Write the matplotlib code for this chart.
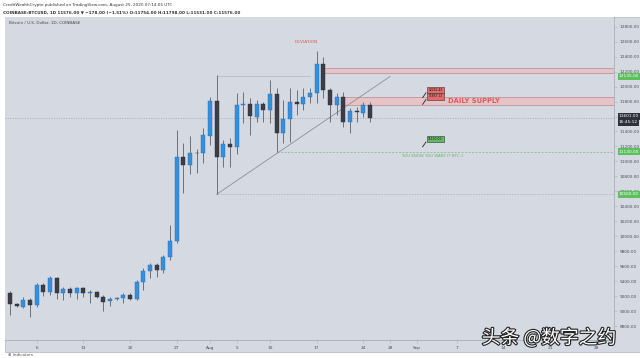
import matplotlib
matplotlib.use("Agg")
import matplotlib.pyplot as plt
import matplotlib.patheffects as pe
from matplotlib.patches import Rectangle
from matplotlib.transforms import blended_transform_factory

# daily candles, COINBASE BTCUSD, Jul 2 .. Aug 25 2020 (index 0 = Jul 2)
opens = [9247, 9091, 9060, 9149, 9082, 9345, 9260, 9438, 9238, 9292,
         9238, 9305, 9247, 9260, 9194, 9136, 9158, 9171, 9216, 9158,
         9394, 9537, 9617, 9550, 9719, 9942, 11053, 10950, 11110, 11108,
         11340, 11811, 11064, 11233, 11188, 11754, 11767, 11598, 11767, 11687,
         11901, 11384, 11562, 11789, 11767, 11856, 11919, 12302, 11954, 11754,
         11865, 11522, 11678, 11652, 11754]
highs = [9274, 9113, 9194, 9171, 9381, 9372, 9470, 9452, 9318, 9318,
         9327, 9318, 9283, 9274, 9216, 9185, 9194, 9247, 9238, 9416,
         9572, 9639, 9639, 9750, 10151, 11418, 11247, 11343, 11170, 11450,
         11865, 12155, 11286, 11308, 11910, 11932, 11843, 11820, 11798, 12088,
         11976, 11820, 11976, 11954, 11976, 11976, 12479, 12395, 11976, 11910,
         11932, 11710, 11731, 11798, 11798]
lows = [8949, 9051, 9038, 8918, 9051, 9200, 9216, 9158, 9149, 9194,
        9158, 9185, 9105, 9171, 9007, 9069, 9149, 9113, 9149, 9149,
        9283, 9439, 9461, 9505, 9683, 9904, 10576, 10830, 10840, 10980,
        11220, 10560, 10930, 10930, 11100, 11509, 11353, 11531, 11531, 11509,
        11130, 11242, 11264, 11620, 11687, 11776, 11776, 11843, 11531, 11620,
        11465, 11375, 11531, 11598, 11531]
closes = [9096, 9069, 9149, 9082, 9349, 9260, 9438, 9247, 9292, 9238,
          9305, 9247, 9260, 9194, 9127, 9158, 9171, 9216, 9158, 9394,
          9537, 9617, 9550, 9719, 9942, 11053, 10950, 11110, 11108, 11353,
          11811, 11063, 11233, 11188, 11754, 11770, 11607, 11767, 11687, 11901,
          11384, 11562, 11789, 11770, 11856, 11919, 12302, 11954, 11754, 11865,
          11522, 11678, 11665, 11754, 11576]

price_ticks = list(range(8800, 12801, 200))
date_ticks = [4, 11, 18, 25, 30, 34, 39, 46, 53, 57, 61, 67, 74, 81, 88]
date_labels = ["6", "13", "20", "27", "Aug", "5", "10", "17", "24", "28",
               "Sep", "7", "14", "21", "28"]

supply_hi = (12177, 12252)
supply_lo = (11752, 11857)
aug2_low = 10560
target = 11130
trend_end = (57, 12135)
last_price = closes[-1]

W, H = 640, 358
bg = '#d5d9e1'
blue = '#3490dc'
dark = '#3b3e46'
XMIN, XMAX = -0.75, 90.6

fig = plt.figure(figsize=(6.4, 3.58), dpi=100)
fig.patch.set_facecolor('white')

# chart panel background (incl. price and time scale)
panel = Rectangle((5 / W, 1 - 352 / H), 635 / W, 335 / H,
                  transform=fig.transFigure, facecolor=bg,
                  edgecolor='#b9bec7', linewidth=0.6, zorder=-5)
fig.add_artist(panel)

ax = fig.add_axes([5 / W, 1 - 340 / H, 609 / W, 323 / H])
ax.set_zorder(2)
ax.set_facecolor(bg)
ax.set_xlim(XMIN, XMAX)
ax.set_ylim(8613, 12930)
for s in ['top', 'left']:
    ax.spines[s].set_visible(False)
ax.spines['right'].set_color('#a9aeb8')
ax.spines['bottom'].set_color('#a9aeb8')
ax.spines['right'].set_linewidth(0.6)
ax.spines['bottom'].set_linewidth(0.6)

# candles
for i in range(len(opens)):
    o, h, l, c = opens[i], highs[i], lows[i], closes[i]
    col = blue if c >= o else dark
    ax.vlines(i, l, h, color='#5b6069', linewidth=0.6, zorder=2)
    lo, hi = min(o, c), max(o, c)
    ax.bar(i, max(hi - lo, 8), bottom=lo, width=0.62, color=col,
           edgecolor='#2b2e35' if col == dark else '#2a6fb0', linewidth=0.3,
           zorder=3)

# drawings
ax.axhspan(*supply_hi, xmin=(47 - XMIN) / (XMAX - XMIN),
           facecolor='#e6c3c7', edgecolor='#b98a90', linewidth=0.5, zorder=1)
ax.axhspan(*supply_lo, xmin=(50 - XMIN) / (XMAX - XMIN),
           facecolor='#e6c3c7', edgecolor='#b98a90', linewidth=0.5, zorder=1)
ax.plot([31, trend_end[0]], [aug2_low, trend_end[1]], color='#8e9097',
        linewidth=0.6, zorder=1)
ax.plot([31, 45], [12141, 12141], color='#b2b5bc', linewidth=0.5, zorder=1)
ax.plot([31, XMAX], [aug2_low, aug2_low], color='#a7aab2', linewidth=0.5,
        linestyle=(0, (2, 2)), zorder=1)
ax.plot([40, XMAX], [target, target], color='#7fb77f', linewidth=0.5,
        linestyle=(0, (3, 2)), zorder=1)
ax.axhline(last_price, color='#9a9da4', linewidth=0.5, linestyle=(0, (1.5, 2)),
           zorder=1)

ax.text(44.5, 12600, "DEVIATION", color='#e05555', fontsize=3.2, ha='center',
        va='center')
ax.text(69.6, 11805, "DAILY SUPPLY", color='#e05a5a', fontsize=4.9,
        ha='center', va='center', fontweight='bold')

# price notes
for y0, txt, fc in [(11957, "12252.43", '#e46a6a'), (11868, "11857.12", '#e46a6a'),
                    (11300, "11130.00", '#63b865')]:
    ax.text(63.8, y0, txt, fontsize=2.2, ha='center', va='center', color='#111',
            bbox=dict(boxstyle='square,pad=0.35', facecolor=fc,
                      edgecolor='#333', linewidth=0.4), zorder=5)
    ax.plot([62.4, 61.9], [y0 - 40, y0 - 105], color='#222', linewidth=0.6,
            zorder=5)
ax.text(63.4, 11070, "YOU KNOW YOU WANT IT BTC ;)", color='#6fae6f',
        fontsize=2.8, ha='center', va='center')

# price scale
ax.yaxis.tick_right()
ax.set_yticks(price_ticks)
ax.set_yticklabels([f"{p:.2f}" for p in price_ticks], fontsize=3.1,
                   color='#4a4e57')
ax.tick_params(axis='y', length=2, width=0.4, color='#a9aeb8', pad=2)
ax.set_xticks(date_ticks)
ax.set_xticklabels(date_labels, fontsize=3.1, color='#4a4e57')
ax.tick_params(axis='x', length=2, width=0.4, color='#a9aeb8', pad=2)

tr = blended_transform_factory(ax.transAxes, ax.transData)
for p, fc in [(trend_end[1], '#5cc05c'), (target, '#5cc05c'),
              (aug2_low, '#5cc05c'), (last_price + 25, '#2e3139')]:
    ax.text(1.008, p, f"{p:.2f}", transform=tr, fontsize=3.1, color='white',
            ha='left', va='center', zorder=6, clip_on=False,
            bbox=dict(boxstyle='square,pad=0.3', facecolor=fc, edgecolor='none'))
ax.text(1.008, last_price - 55, "16:45:12", transform=tr, fontsize=3.1,
        color='white', ha='left', va='center', zorder=6, clip_on=False,
        bbox=dict(boxstyle='square,pad=0.3', facecolor='#2e3139', edgecolor='none'))

# header / legend texts
fig.text(3 / W, 1 - 5 / H, "CreditWealthCrypto published on TradingView.com, August 25, 2020 07:14:05 UTC",
         fontsize=3.0, color='#333', va='center')
fig.text(3 / W, 1 - 12 / H,
         "COINBASE:BTCUSD, 1D 11576.00 \u25bc \u2212178.00 (\u22121.51%) O:11754.00 H:11798.00 L:11531.00 C:11576.00",
         fontsize=3.0, color='#333', va='center', fontweight='bold')
fig.text(9 / W, 1 - 23 / H, "Bitcoin / U.S. Dollar, 1D, COINBASE", fontsize=3.0,
         color='#444', va='center', zorder=5)
fig.text(8 / W, 1 - 355 / H, "\u2295 Indicators", fontsize=3.0, color='#555',
         va='center')

# watermark
fig.text(549 / W, 1 - 338 / H, "头条 @数字之约", fontsize=13.5, color='white',
         ha='center', va='center', family=['Noto Sans CJK SC', 'DejaVu Sans'],
         path_effects=[pe.withStroke(linewidth=1.6, foreground='#222')], zorder=10)

fig.savefig("out.png", dpi=100, facecolor=fig.get_facecolor())
